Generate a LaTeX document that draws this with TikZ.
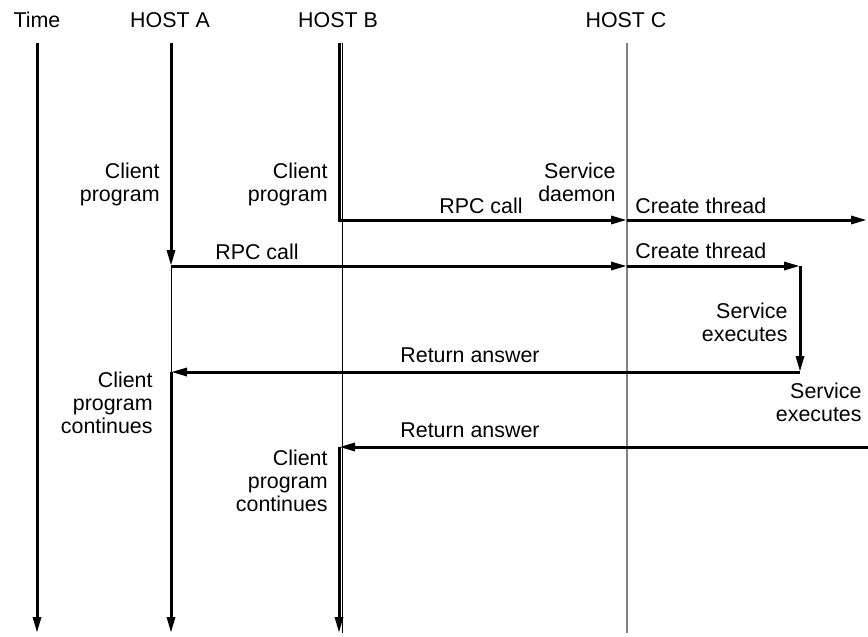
\documentclass[tikz,border=0pt]{standalone}
\usepackage{fontspec}
\setmainfont{Liberation Sans}
\usetikzlibrary{arrows.meta}
\tikzset{
  lbl/.style={inner sep=0pt, font=\fontsize{10.7}{11.5}\selectfont},
  lblr/.style={lbl, align=right, anchor=north east},
  activity/.style={line width=1.5pt},
  msg/.style={activity, -{Triangle[length=8pt,width=4pt]}},
  lifeline/.style={line width=0.5pt},
  daemon/.style={line width=0.9pt, draw=gray}
}
\begin{document}
\begin{tikzpicture}[x=0.5pt, y=-0.5pt]
  \useasboundingbox (0,0) rectangle (868,637);
  % column heads
  \node[lbl, anchor=base] (time) at (37,27)  {Time};
  \node[lbl, anchor=base] (hosta) at (170,27) {HOST A};
  \node[lbl, anchor=base] (hostb) at (338,27) {HOST B};
  \node[lbl, anchor=base] (hostc) at (626,27) {HOST C};
  % points on the lines
  \coordinate (timetop) at (37,43);  \coordinate (timebot) at (37,633);
  \coordinate (atop) at (171,43);    \coordinate (acall) at (171,266);
  \coordinate (aret) at (171,372);   \coordinate (abot) at (171,633);
  \coordinate (btop) at (339,43);    \coordinate (bcall) at (339,220);
  \coordinate (bret) at (339,447);   \coordinate (bbot) at (339,633);
  \coordinate (bthintop) at (342,43); \coordinate (bthinbot) at (342,633);
  \coordinate (ctop) at (627,43);    \coordinate (cbot) at (627,633);
  \coordinate (crpcb) at (627,220);  \coordinate (crpca) at (627,266);
  \coordinate (thredge) at (867,220);
  \coordinate (svctop) at (800,266); \coordinate (svcbot) at (800,372);
  \coordinate (retedge) at (868,447);
  % lifelines
  \draw[lifeline] (bthintop) -- (bthinbot);
  \draw[lifeline] (acall) -- (aret);
  \draw[daemon] (ctop) -- (cbot);
  \draw[msg] (timetop) -- (timebot);
  % host B call
  \draw[msg] (btop) -- (bcall) -- (crpcb);
  \draw[msg] (crpcb) -- (thredge);
  % host A call
  \draw[msg] (atop) -- (acall);
  \draw[msg] (acall) -- (crpca);
  \draw[msg] (crpca) -- (svctop);
  \draw[msg] (svctop) -- (svcbot);
  \draw[msg] (svcbot) -- (aret);
  \draw[msg] (aret) -- (abot);
  % host B answer
  \draw[msg] (retedge) -- (bret);
  \draw[msg] (bret) -- (bbot);
  % labels
  \node[lblr] (aclient) at (160,163) {Client\\program};
  \node[lblr] (bclient) at (328,163) {Client\\program};
  \node[lblr] (daemonlbl) at (616,163) {Service\\daemon};
  \node[lbl, anchor=base] (rpcb) at (481,213) {RPC call};
  \node[lbl, anchor=base] (rpca) at (257,259) {RPC call};
  \node[lbl, anchor=base west] (thrb) at (635,213) {Create thread};
  \node[lbl, anchor=base west] (thra) at (635,258) {Create thread};
  \node[lblr] (exea) at (788,303) {Service\\executes};
  \node[lbl, anchor=base west] (reta) at (400,362) {Return answer};
  \node[lblr] (exeb) at (862,383) {Service\\executes};
  \node[lblr] (acont) at (153,372) {Client\\program\\continues};
  \node[lbl, anchor=base west] (retb) at (400,437) {Return answer};
  \node[lblr] (bcont) at (328,450) {Client\\program\\continues};
\end{tikzpicture}
\end{document}
